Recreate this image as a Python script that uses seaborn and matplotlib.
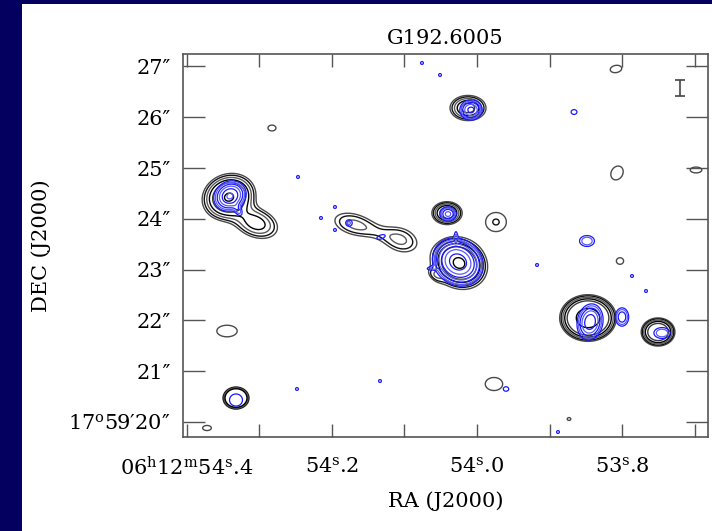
import numpy as np
import matplotlib
matplotlib.use("Agg")
import matplotlib.pyplot as plt
from matplotlib.patches import Rectangle
import seaborn as sns

# ---- source components (RA seconds past 06h12m, Dec arcsec past +17d59m) ----
# continuum emission (black contours)
cont_ra = [54.3421, 54.3048, 54.2828, 54.1710, 54.1048, 54.1379, 54.0414, 53.9738,
           54.0248, 54.0124, 53.8083, 53.8069, 53.6979, 53.8469, 53.7503, 53.8028,
           53.9766, 54.3448, 54.3324, 54.3724, 53.8731, 54.0580]
cont_dec = [24.429, 23.917, 25.787, 23.898, 23.583, 23.740, 24.114, 23.937,
            23.130, 26.181, 26.949, 24.902, 24.961, 22.047, 21.772, 23.169,
            20.748, 21.791, 20.472, 19.882, 20.059, 22.880]
cont_amp = [9.0, 3.5, 1.3, 2.05, 2.05, 0.8, 6.0, 1.45,
            9.3, 5.0, 1.3, 1.3, 1.3, 10.0, 6.0, 1.3,
            1.3, 1.3, 4.0, 1.3, 1.3, 1.2]
cont_major = [0.256, 0.276, 0.108, 0.300, 0.256, 0.315, 0.157, 0.236,
              0.276, 0.197, 0.157, 0.197, 0.157, 0.335, 0.217, 0.098,
              0.236, 0.276, 0.225, 0.118, 0.049, 0.120]
cont_minor = [0.217, 0.177, 0.079, 0.160, 0.180, 0.120, 0.118, 0.217,
              0.236, 0.138, 0.098, 0.157, 0.079, 0.276, 0.181, 0.089,
              0.177, 0.157, 0.191, 0.069, 0.039, 0.070]
cont_pa = [20, -20, 0, -15, -20, -18, 0, 0,
           -30, 0, 10, 60, 0, 0, 0, 0,
           0, 0, 0, 0, 0, -40]
cont_shape = [2, 2, 2, 2, 2, 2, 2, 2,
              2, 2, 2, 2, 2, 3, 3, 2,
              2, 2, 8, 2, 2, 2]
cont_levels = [1.0, 1.4, 2.0, 2.8, 4.0, 8.5]

# line emission (blue contours)
line_ra = [54.3407, 54.3297, 54.1766, 54.1324, 54.0400, 54.0262, 54.0290, 54.0621,
           54.0083, 53.8662, 53.8441, 53.8000, 53.7448, 53.8483, 53.9600, 54.3324,
           54.2469, 54.0759, 54.0510, 54.2483, 53.9172, 53.7669, 53.7862, 53.8883,
           54.1338, 54.1959, 54.2152, 54.1959]
line_dec = [24.449, 24.173, 23.917, 23.642, 24.094, 23.150, 23.622, 23.031,
            26.142, 26.102, 21.969, 22.067, 21.752, 23.563, 20.650, 20.433,
            24.823, 27.067, 26.831, 20.650, 23.091, 22.579, 22.874, 19.803,
            20.807, 24.232, 24.016, 23.780]
line_amp = [12.0, 2.0, 1.8, 1.6, 5.0, 25.0, 1.5, 1.4,
            8.0, 1.6, 10.0, 4.0, 2.5, 2.5, 1.5, 1.45,
            1.3, 1.3, 1.3, 1.3, 1.3, 1.3, 1.3, 1.3,
            1.3, 1.3, 1.3, 1.3]
line_major = [0.148, 0.098, 0.059, 0.089, 0.089, 0.207, 0.118, 0.098,
              0.098, 0.059, 0.167, 0.108, 0.118, 0.108, 0.059, 0.148,
              0.039, 0.039, 0.039, 0.039, 0.039, 0.039, 0.039, 0.039,
              0.039, 0.039, 0.039, 0.039]
line_minor = [0.128, 0.049, 0.059, 0.039, 0.079, 0.177, 0.026, 0.030,
              0.108, 0.049, 0.118, 0.079, 0.079, 0.079, 0.049, 0.138,
              0.039, 0.039, 0.039, 0.039, 0.039, 0.039, 0.039, 0.039,
              0.039, 0.039, 0.039, 0.039]
line_pa = [30, -60, 0, 20, 0, -35, 90, 10,
           90, 0, 80, 90, 0, 0, 0, 0,
           0, 0, 0, 0, 0, 0, 0, 0,
           0, 0, 0, 0]
line_levels = [1.0, 1.6, 2.6, 4.2, 6.8, 11.0, 17.5]

# positional-error bar
beam_ra, beam_dec, beam_half = 53.72, 26.575, 0.157

# axis ticks and labels
ra_ticks = [54.4, 54.3, 54.2, 54.1, 54.0, 53.9, 53.8, 53.7]
ra_labels = ["06$^{\\rm h}$12$^{\\rm m}$54$^{\\rm s}$.4", "", "54$^{\\rm s}$.2", "",
             "54$^{\\rm s}$.0", "", "53$^{\\rm s}$.8", ""]
dec_ticks = [20, 21, 22, 23, 24, 25, 26, 27]
dec_labels = ["17$^{\\rm o}$59\u203220\u2033", "21\u2033", "22\u2033", "23\u2033",
              "24\u2033", "25\u2033", "26\u2033", "27\u2033"]

RA_LIM = (54.4055, 53.6814)
DEC_LIM = (19.705, 27.244)
SEC2ARCSEC = 15.0 * np.cos(np.deg2rad(17.0 + 59.0 / 60.0))


def render(ra, dec, amp, major, minor, pa, shape, X, Y):
    field = np.zeros_like(X)
    for r0, d0, a, mj, mn, th, p in zip(ra, dec, amp, major, minor, pa, shape):
        u = (r0 - X) * SEC2ARCSEC          # arcsec, positive to the west (right)
        v = Y - d0
        t = np.deg2rad(th)
        ua = u * np.cos(t) + v * np.sin(t)
        vb = -u * np.sin(t) + v * np.cos(t)
        r2 = (ua / mj) ** 2 + (vb / mn) ** 2
        field += a * np.exp(-0.5 * r2 ** (p / 2.0))
    return field


sns.set_style("white")
plt.rcParams["font.family"] = ["DejaVu Serif"]
plt.rcParams["mathtext.fontset"] = "dejavuserif"
plt.rcParams["text.color"] = "black"
plt.rcParams["axes.labelcolor"] = "black"
plt.rcParams["xtick.color"] = "black"
plt.rcParams["ytick.color"] = "black"

W, H = 712, 531
fig = plt.figure(figsize=(W / 100, H / 100), dpi=100)
fig.patch.set_facecolor("white")
fig.add_artist(Rectangle((0, 0), 22 / W, 1, transform=fig.transFigure,
                         facecolor="#03005f", edgecolor="none", zorder=0))
fig.add_artist(Rectangle((0, 1 - 4 / H), 1, 4 / H, transform=fig.transFigure,
                         facecolor="#03005f", edgecolor="none", zorder=0))

ax = fig.add_axes([183 / W, (H - 437) / H, 525 / W, 383 / H])

ra_grid = np.linspace(RA_LIM[0], RA_LIM[1], 1100)
dec_grid = np.linspace(DEC_LIM[0], DEC_LIM[1], 800)
X, Y = np.meshgrid(ra_grid, dec_grid)

cont = render(cont_ra, cont_dec, cont_amp, cont_major, cont_minor, cont_pa,
              cont_shape, X, Y)
line = render(line_ra, line_dec, line_amp, line_major, line_minor, line_pa,
              [2] * len(line_ra), X, Y)

ax.contour(X, Y, cont, levels=cont_levels,
           colors=["#4a4a4a", "#111111", "#5a5a5a", "#000000", "#3a3a3a", "#000000"],
           linewidths=1.0)
ax.contour(X, Y, line, levels=line_levels,
           colors=["#1a1aff", "#5c5cff", "#1a1aff", "#5c5cff",
                   "#1a1aff", "#5c5cff", "#1a1aff"],
           linewidths=0.9)

ax.errorbar([beam_ra], [beam_dec], yerr=[beam_half], fmt="none",
            ecolor="#444444", elinewidth=1.2, capsize=3.5, capthick=1.2)

ax.set_xlim(*RA_LIM)
ax.set_ylim(*DEC_LIM)
ax.set_xticks(ra_ticks)
ax.set_xticklabels(ra_labels)
ax.set_yticks(dec_ticks)
ax.set_yticklabels(dec_labels)
ax.tick_params(axis="x", direction="in", length=9.5, width=1, color="#555555",
               top=True, bottom=True, labelsize=15, pad=14, labelcolor="black")
ax.tick_params(axis="y", direction="in", length=16, width=1, color="#555555",
               left=True, right=True, labelsize=15, pad=9, labelcolor="black")
for s in ax.spines.values():
    s.set_color("#555555")
    s.set_linewidth(1.2)

ax.set_title("G192.6005", fontsize=15, pad=7, color="black")
ax.set_xlabel("RA (J2000)", fontsize=15)
ax.set_ylabel("DEC (J2000)", fontsize=15)
ax.xaxis.set_label_coords(0.5, -(491 - 437) / 383)
ax.yaxis.set_label_coords(-(183 - 51) / 525, 0.5)

fig.savefig("out.png", dpi=100, facecolor=fig.get_facecolor())
